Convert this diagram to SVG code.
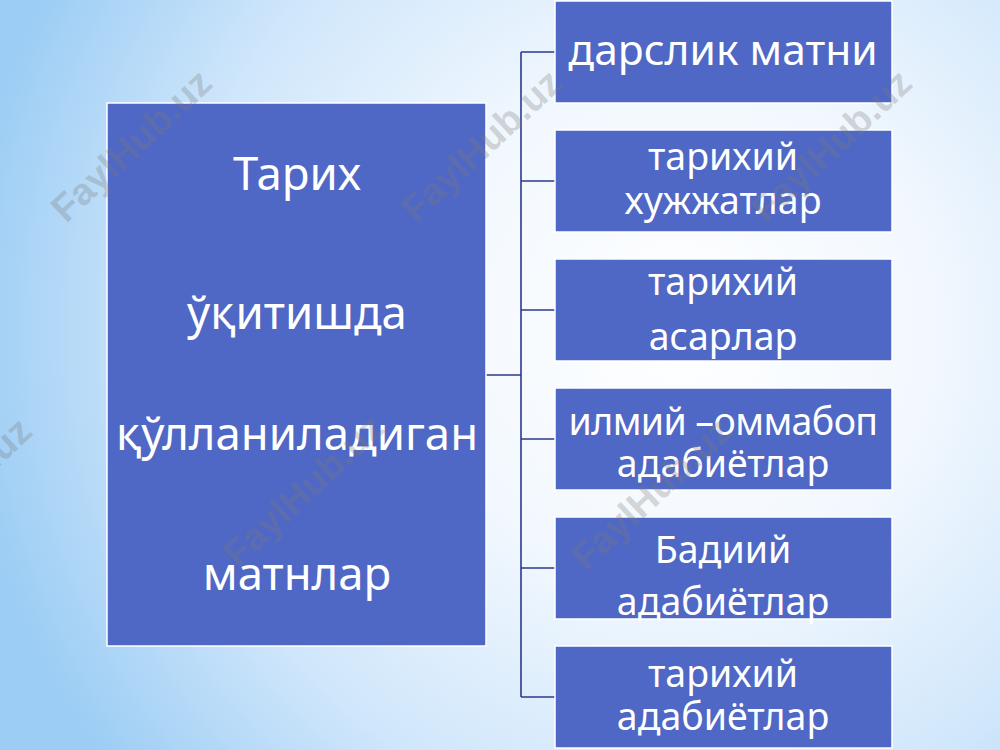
<svg xmlns="http://www.w3.org/2000/svg" width="1000" height="750" viewBox="0 0 1000 750">
<defs>
<radialGradient id="bg" cx="680" cy="330" r="720" gradientUnits="userSpaceOnUse">
<stop offset="0" stop-color="#ffffff"/>
<stop offset="0.35" stop-color="#f2f8fe"/>
<stop offset="0.7" stop-color="#cfe6fb"/>
<stop offset="1" stop-color="#9ccdf4"/>
</radialGradient>
<style>
.box{fill:#4f67c5;stroke:#ffffff;stroke-width:1.5}
.t{font-family:"Noto Sans","Open Sans","DejaVu Sans",sans-serif;font-size:37.5px;fill:#ffffff;text-anchor:middle}
.big{font-size:45.5px}
.mid{font-size:42.5px}
.conn{stroke:#2c3a8e;stroke-width:1.6;fill:none}
.wm{font-family:"Liberation Sans",Arial,sans-serif;font-weight:bold;font-size:38px;fill:#7a7a7a;fill-opacity:0.3;text-anchor:middle}
</style>
</defs>
<rect x="0" y="0" width="1000" height="750" fill="url(#bg)"/>
<g id="connectors">
<path class="conn" d="M486 375 H521 M521 52 V697 M521 52 H555 M521 181 H555 M521 310 H555 M521 439 H555 M521 568 H555 M521 697 H555"/>
</g>
<g id="main">
<rect class="box" x="107" y="103" width="379" height="543"/>
<text class="t big" x="297" y="190">Тарих</text>
<text class="t big" x="297" y="329">ўқитишда</text>
<text class="t big" x="297" y="450">қўлланиладиган</text>
<text class="t big" x="297" y="590">матнлар</text>
</g>
<g id="n1">
<rect class="box" x="555" y="1" width="337" height="102"/>
<text class="t mid" x="723" y="65">дарслик матни</text>
</g>
<g id="n2">
<rect class="box" x="555" y="130" width="337" height="102"/>
<text class="t" x="723" y="170">тарихий</text>
<text class="t" x="723" y="214">хужжатлар</text>
</g>
<g id="n3">
<rect class="box" x="555" y="259" width="337" height="102"/>
<text class="t" x="723" y="295">тарихий</text>
<text class="t" x="723" y="350">асарлар</text>
</g>
<g id="n4">
<rect class="box" x="555" y="388" width="337" height="102"/>
<text class="t" x="723" y="435" letter-spacing="-0.6">илмий –оммабоп</text>
<text class="t" x="723" y="477">адабиётлар</text>
</g>
<g id="n5">
<rect class="box" x="555" y="517" width="337" height="102"/>
<text class="t" x="723" y="563">Бадиий</text>
<text class="t" x="723" y="615">адабиётлар</text>
</g>
<g id="n6">
<rect class="box" x="555" y="646" width="337" height="102"/>
<text class="t" x="723" y="687">тарихий</text>
<text class="t" x="723" y="730">адабиётлар</text>
</g>
<g id="watermarks">
<text class="wm" transform="translate(140,155) rotate(-43)">FaylHub.uz</text>
<text class="wm" transform="translate(490,155) rotate(-43)">FaylHub.uz</text>
<text class="wm" transform="translate(840,155) rotate(-43)">FaylHub.uz</text>
<text class="wm" transform="translate(-40,503) rotate(-43)">FaylHub.uz</text>
<text class="wm" transform="translate(312,500) rotate(-43)">FaylHub.uz</text>
<text class="wm" transform="translate(660,503) rotate(-43)">FaylHub.uz</text>
</g>
</svg>
